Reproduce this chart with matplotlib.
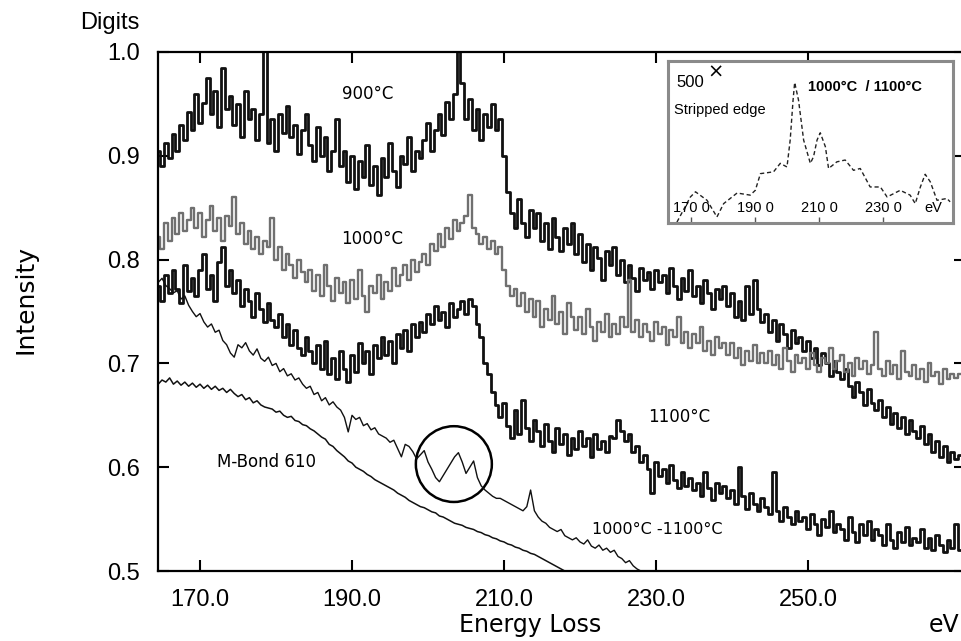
import numpy as np
import matplotlib
matplotlib.use("Agg")
import matplotlib.pyplot as plt
from matplotlib.patches import Ellipse

# energy grid (eV), 0.5 eV channels
energy = np.arange(164.5, 270.01, 0.5)

t900 = [
    0.905, 0.890, 0.912, 0.898, 0.921, 0.905, 0.930, 0.915, 0.942, 0.925,
    0.960, 0.932, 0.951, 0.975, 0.940, 0.962, 0.928, 0.985, 0.945, 0.958,
    0.930, 0.950, 0.918, 0.962, 0.935, 0.945, 0.915, 0.940, 1.005, 0.912,
    0.935, 0.905, 0.940, 0.922, 0.948, 0.918, 0.930, 0.902, 0.925, 0.940,
    0.910, 0.895, 0.928, 0.900, 0.918, 0.885, 0.905, 0.935, 0.890, 0.905,
    0.875, 0.900, 0.868, 0.895, 0.880, 0.910, 0.872, 0.890, 0.862, 0.898,
    0.880, 0.912, 0.885, 0.870, 0.900, 0.892, 0.918, 0.885, 0.905, 0.898,
    0.915, 0.932, 0.905, 0.925, 0.940, 0.920, 0.952, 0.935, 0.960, 1.005,
    0.970, 0.935, 0.955, 0.925, 0.945, 0.915, 0.940, 0.928, 0.950, 0.925,
    0.935, 0.900, 0.865, 0.845, 0.830, 0.858, 0.835, 0.822, 0.848, 0.830,
    0.845, 0.818, 0.835, 0.810, 0.840, 0.822, 0.808, 0.830, 0.815, 0.835,
    0.805, 0.825, 0.798, 0.815, 0.790, 0.812, 0.802, 0.780, 0.808, 0.795,
    0.812, 0.785, 0.800, 0.778, 0.795, 0.782, 0.770, 0.792, 0.780, 0.788,
    0.772, 0.790, 0.778, 0.785, 0.768, 0.792, 0.775, 0.762, 0.782, 0.770,
    0.790, 0.765, 0.775, 0.758, 0.780, 0.768, 0.752, 0.772, 0.762, 0.775,
    0.755, 0.768, 0.745, 0.760, 0.742, 0.775, 0.748, 0.780, 0.752, 0.740,
    0.748, 0.730, 0.742, 0.722, 0.738, 0.728, 0.715, 0.732, 0.720, 0.725,
    0.712, 0.722, 0.705, 0.715, 0.698, 0.710, 0.700, 0.688, 0.702, 0.692,
    0.685, 0.695, 0.678, 0.668, 0.682, 0.672, 0.660, 0.675, 0.662, 0.655,
    0.665, 0.648, 0.658, 0.642, 0.652, 0.638, 0.648, 0.632, 0.645, 0.635,
    0.628, 0.640, 0.622, 0.632, 0.615, 0.625, 0.610, 0.620, 0.605, 0.615,
    0.608, 0.612,
]

t1000 = [
    0.822, 0.810, 0.835, 0.818, 0.840, 0.825, 0.845, 0.828, 0.838, 0.850,
    0.830, 0.845, 0.822, 0.838, 0.852, 0.828, 0.840, 0.818, 0.842, 0.832,
    0.860, 0.825, 0.835, 0.815, 0.828, 0.810, 0.822, 0.805, 0.818, 0.812,
    0.840, 0.800, 0.812, 0.790, 0.805, 0.795, 0.782, 0.800, 0.788, 0.778,
    0.790, 0.770, 0.785, 0.765, 0.795, 0.775, 0.760, 0.782, 0.768, 0.778,
    0.758, 0.780, 0.762, 0.790, 0.765, 0.750, 0.775, 0.768, 0.785, 0.762,
    0.778, 0.770, 0.792, 0.775, 0.785, 0.795, 0.780, 0.800, 0.788, 0.798,
    0.805, 0.795, 0.815, 0.808, 0.825, 0.812, 0.830, 0.820, 0.838, 0.828,
    0.835, 0.842, 0.862, 0.830, 0.825, 0.815, 0.822, 0.810, 0.818, 0.805,
    0.812, 0.790, 0.775, 0.765, 0.772, 0.755, 0.768, 0.750, 0.762, 0.745,
    0.760, 0.735, 0.752, 0.742, 0.765, 0.738, 0.750, 0.728, 0.758, 0.745,
    0.732, 0.745, 0.728, 0.752, 0.735, 0.722, 0.740, 0.730, 0.748, 0.725,
    0.738, 0.728, 0.745, 0.735, 0.780, 0.730, 0.742, 0.725, 0.738, 0.730,
    0.722, 0.740, 0.728, 0.735, 0.718, 0.732, 0.725, 0.745, 0.720, 0.730,
    0.715, 0.728, 0.720, 0.735, 0.712, 0.722, 0.708, 0.725, 0.715, 0.720,
    0.708, 0.720, 0.705, 0.715, 0.698, 0.712, 0.702, 0.718, 0.700, 0.710,
    0.700, 0.712, 0.698, 0.708, 0.695, 0.715, 0.702, 0.692, 0.708, 0.700,
    0.705, 0.695, 0.710, 0.698, 0.692, 0.705, 0.700, 0.715, 0.695, 0.702,
    0.708, 0.692, 0.700, 0.688, 0.705, 0.695, 0.702, 0.690, 0.698, 0.730,
    0.695, 0.688, 0.702, 0.690, 0.698, 0.685, 0.712, 0.692, 0.688, 0.698,
    0.685, 0.695, 0.682, 0.700, 0.688, 0.692, 0.680, 0.695, 0.685, 0.690,
    0.686, 0.690,
]

t1100 = [
    0.775, 0.760, 0.785, 0.768, 0.790, 0.772, 0.758, 0.795, 0.770, 0.782,
    0.765, 0.790, 0.805, 0.772, 0.785, 0.760, 0.798, 0.812, 0.775, 0.790,
    0.768, 0.780, 0.755, 0.772, 0.760, 0.745, 0.768, 0.752, 0.740, 0.758,
    0.742, 0.735, 0.748, 0.725, 0.738, 0.718, 0.732, 0.715, 0.708, 0.725,
    0.712, 0.700, 0.718, 0.695, 0.722, 0.690, 0.705, 0.685, 0.712, 0.695,
    0.682, 0.708, 0.692, 0.720, 0.700, 0.712, 0.690, 0.718, 0.705, 0.725,
    0.708, 0.722, 0.700, 0.728, 0.715, 0.732, 0.712, 0.738, 0.725, 0.740,
    0.730, 0.748, 0.738, 0.755, 0.742, 0.750, 0.735, 0.758, 0.745, 0.752,
    0.760, 0.748, 0.762, 0.755, 0.738, 0.725, 0.700, 0.690, 0.672, 0.660,
    0.648, 0.662, 0.640, 0.628, 0.655, 0.632, 0.665, 0.638, 0.625, 0.645,
    0.635, 0.620, 0.642, 0.625, 0.615, 0.638, 0.622, 0.632, 0.612, 0.628,
    0.618, 0.635, 0.620, 0.628, 0.610, 0.632, 0.618, 0.625, 0.615, 0.630,
    0.628, 0.645, 0.635, 0.625, 0.632, 0.615, 0.620, 0.605, 0.612, 0.598,
    0.575, 0.605, 0.592, 0.598, 0.585, 0.602, 0.588, 0.580, 0.595, 0.582,
    0.590, 0.578, 0.585, 0.572, 0.595, 0.580, 0.568, 0.585, 0.575, 0.582,
    0.570, 0.578, 0.565, 0.600, 0.572, 0.560, 0.575, 0.565, 0.558, 0.570,
    0.562, 0.555, 0.595, 0.558, 0.548, 0.562, 0.552, 0.545, 0.558, 0.548,
    0.552, 0.540, 0.555, 0.545, 0.535, 0.550, 0.542, 0.558, 0.538, 0.545,
    0.540, 0.530, 0.552, 0.538, 0.528, 0.545, 0.535, 0.548, 0.530, 0.540,
    0.535, 0.525, 0.545, 0.530, 0.522, 0.538, 0.528, 0.542, 0.525, 0.532,
    0.528, 0.540, 0.522, 0.532, 0.520, 0.535, 0.525, 0.518, 0.530, 0.522,
    0.545, 0.520,
]

t_diff = [
    0.778, 0.782, 0.775, 0.772, 0.768, 0.770, 0.762, 0.765, 0.756, 0.750,
    0.745, 0.748, 0.740, 0.735, 0.738, 0.730, 0.732, 0.722, 0.718, 0.710,
    0.706, 0.718, 0.715, 0.720, 0.712, 0.708, 0.714, 0.705, 0.702, 0.706,
    0.698, 0.700, 0.692, 0.695, 0.688, 0.690, 0.684, 0.686, 0.680, 0.676,
    0.678, 0.670, 0.672, 0.664, 0.667, 0.660, 0.663, 0.658, 0.655, 0.648,
    0.634, 0.650, 0.646, 0.648, 0.640, 0.642, 0.636, 0.638, 0.632, 0.630,
    0.628, 0.624, 0.626, 0.618, 0.610, 0.622, 0.620, 0.615, 0.608, 0.612,
    0.616, 0.605, 0.598, 0.590, 0.586, 0.592, 0.598, 0.604, 0.610, 0.614,
    0.605, 0.594, 0.600, 0.606, 0.590, 0.582, 0.578, 0.575, 0.572, 0.570,
    0.570, 0.568, 0.566, 0.564, 0.562, 0.560, 0.558, 0.562, 0.578, 0.558,
    0.552, 0.548, 0.546, 0.542, 0.540, 0.538, 0.540, 0.534, 0.532, 0.530,
    0.532, 0.528, 0.526, 0.530, 0.524, 0.522, 0.525, 0.520, 0.522, 0.518,
    0.520, 0.514, 0.512, 0.508, 0.510, 0.505, 0.502, 0.500, 0.498,
]

mbond = [
    0.680, 0.684, 0.682, 0.686, 0.680, 0.683, 0.679, 0.682, 0.678, 0.681,
    0.677, 0.680, 0.676, 0.679, 0.675, 0.678, 0.674, 0.676, 0.672, 0.675,
    0.671, 0.668, 0.670, 0.665, 0.667, 0.662, 0.664, 0.660, 0.658, 0.657,
    0.656, 0.653, 0.654, 0.650, 0.648, 0.649, 0.645, 0.644, 0.641, 0.640,
    0.637, 0.635, 0.632, 0.629, 0.627, 0.622, 0.620, 0.616, 0.613, 0.610,
    0.606, 0.604, 0.600, 0.598, 0.596, 0.593, 0.591, 0.588, 0.586, 0.584,
    0.582, 0.580, 0.578, 0.575, 0.573, 0.571, 0.568, 0.566, 0.564, 0.562,
    0.561, 0.559, 0.557, 0.556, 0.553, 0.552, 0.550, 0.548, 0.546, 0.545,
    0.544, 0.542, 0.541, 0.540, 0.538, 0.537, 0.535, 0.534, 0.532, 0.531,
    0.529, 0.528, 0.526, 0.525, 0.523, 0.522, 0.520, 0.519, 0.517, 0.516,
    0.514, 0.512, 0.510, 0.508, 0.506, 0.504, 0.502, 0.500, 0.498,
]

# inset: stripped edge (1000°C / 1100°C)
inset_ev = [165.6, 169.8, 171.4, 175.0, 178.1, 180.2, 184.4, 188.5, 190.1, 191.7,
            195.8, 197.9, 200.0, 201.0, 201.9, 202.4, 203.6, 205.2, 207.3, 208.3,
            209.4, 210.4, 212.0, 213.0, 215.6, 218.2, 220.8, 222.9, 226.0, 229.2,
            231.3, 235.4, 238.5, 240.1, 241.7, 243.2, 244.8, 246.9, 250.0, 251.0]
inset_cnt = [3, 86, 103, 75, 20, 64, 99, 92, 108, 163,
             169, 197, 185, 274, 406, 464, 406, 274, 197, 219,
             274, 298, 252, 180, 202, 208, 174, 180, 119, 119,
             86, 108, 92, 64, 119, 161, 136, 75, 81, 70]

xticks = [170, 190, 210, 230, 250]
yticks = [0.5, 0.6, 0.7, 0.8, 0.9, 1.0]
inset_ticks = [170, 190, 210, 230]

fig = plt.figure(figsize=(9.61, 6.41), dpi=100)
ax = fig.add_axes([158 / 961, 70 / 641, 807 / 961, 519 / 641])

ax.plot(energy, t900, color="#111111", lw=2.0, drawstyle="steps-mid")
ax.plot(energy, t1000, color="#707070", lw=1.7, drawstyle="steps-mid")
ax.plot(energy, t1100, color="#111111", lw=2.0, drawstyle="steps-mid")
ax.plot(energy[:len(t_diff)], t_diff, color="#111111", lw=1.0)
ax.plot(energy[:len(mbond)], mbond, color="#111111", lw=1.1)

ax.add_patch(Ellipse((203.4, 0.603), 10.0, 0.073, fill=False, ec="black", lw=1.8))

ax.set_xlim(164.47, 270.66)
ax.set_ylim(0.5, 1.0)
ax.set_xticks(xticks)
ax.set_xticklabels([f"{v:.1f}" for v in xticks])
ax.set_yticks(yticks)
ax.set_yticklabels([f"{v:.1f}" for v in yticks])
ax.tick_params(direction="in", length=8, width=1.5, top=True, right=True,
               labelsize=17, pad=13)
for lab in ax.get_xticklabels() + ax.get_yticklabels():
    lab.set_fontfamily("Liberation Sans")
for sp in ax.spines.values():
    sp.set_linewidth(1.6)

kw = dict(fontsize=12, family="DejaVu Sans", ha="center", va="center")
ax.text(192.1, 0.960, "900°C", **kw)
ax.text(192.7, 0.820, "1000°C", **kw)
ax.text(233.0, 0.648, "1100°C", **kw)
ax.text(178.7, 0.605, "M-Bond 610", **kw)
ax.text(230.2, 0.5395, "1000°C -1100°C", fontsize=11.5, family="DejaVu Sans",
        ha="center", va="center")

fig.text(530 / 961, 1 - 625 / 641, "Energy Loss", fontsize=17, ha="center", va="center")
fig.text(944 / 961, 1 - 625 / 641, "eV", fontsize=17, ha="center", va="center")
fig.text(25 / 961, 1 - 300 / 641, "Intensity", fontsize=18, rotation=90,
         ha="center", va="center")
fig.text(110 / 961, 1 - 23 / 641, "Digits", fontsize=17, family="Liberation Sans",
         ha="center", va="center")

# inset
axi = fig.add_axes([668 / 961, 1 - 223 / 641, 285 / 961, 162 / 641])
axi.plot(inset_ev, inset_cnt, color="#222222", lw=1.0, ls=(0, (3, 2)))
axi.set_xlim(162.8, 251.9)
axi.set_ylim(0, 535)
axi.set_yticks([])
axi.set_xticks(inset_ticks)
axi.set_xticklabels([])
axi.tick_params(direction="in", length=4, width=1, colors="#555555")
for sp in axi.spines.values():
    sp.set_edgecolor("#8a8a8a")
    sp.set_linewidth(2.2)
for v in inset_ticks:
    axi.text(v, 50, f"{v} 0", fontsize=10.5, family="Liberation Sans",
             ha="center", va="center")
axi.text(0.93, 0.09, "eV", transform=axi.transAxes, fontsize=10.5,
         family="Liberation Sans", ha="center", va="center")
axi.text(0.03, 0.87, "500", transform=axi.transAxes, fontsize=12,
         family="Liberation Sans", ha="left", va="center")
axi.text(0.165, 0.93, "×", transform=axi.transAxes, fontsize=14,
         ha="center", va="center")
axi.text(0.02, 0.70, "Stripped edge", transform=axi.transAxes, fontsize=10.5,
         family="Liberation Sans", ha="left", va="center")
axi.text(0.49, 0.84, "1000°C  / 1100°C", transform=axi.transAxes, fontsize=10.5,
         family="Liberation Sans", fontweight="bold", ha="left", va="center")

fig.savefig("out.png", dpi=100)
